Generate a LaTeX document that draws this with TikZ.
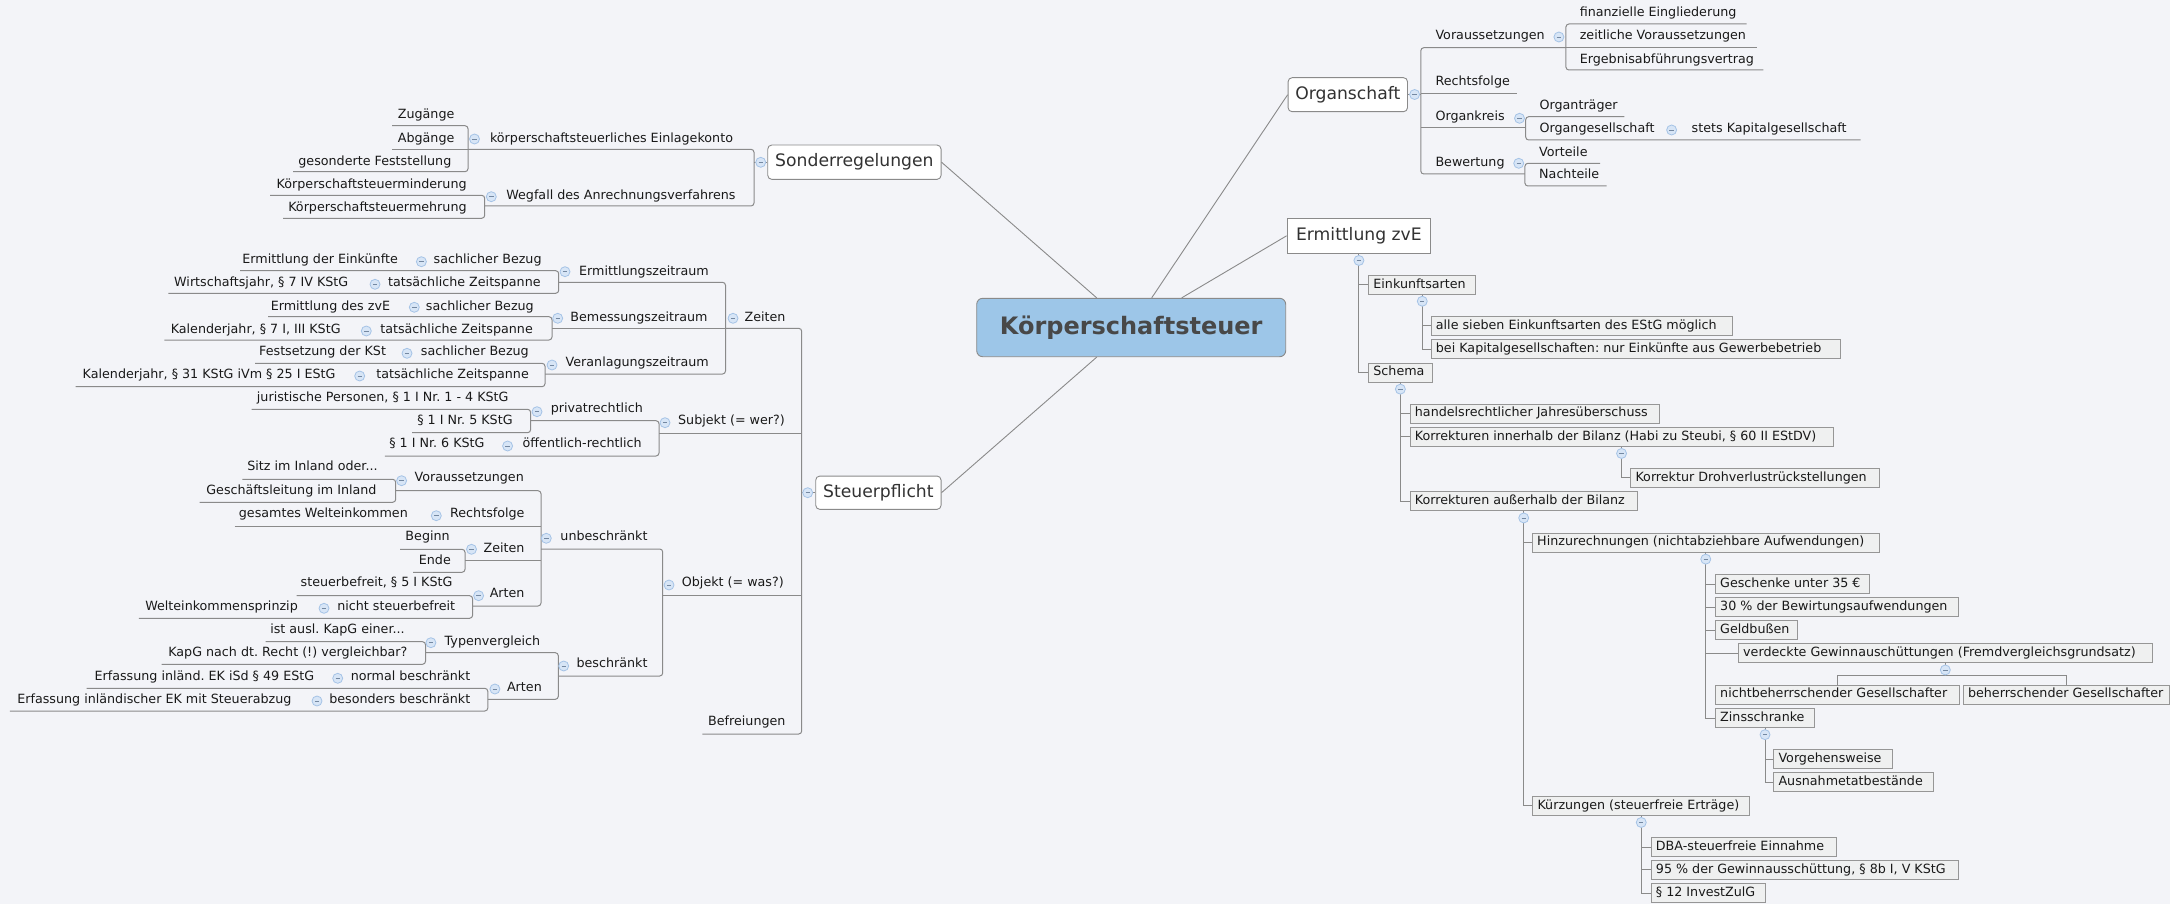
\documentclass[tikz,border=0pt]{standalone}
\usepackage{fontspec}
\setmainfont{DejaVu Sans}
\frenchspacing
\definecolor{bg}{RGB}{243,244,248}
\definecolor{ln}{RGB}{138,138,138}
\definecolor{tx}{RGB}{25,25,25}
\definecolor{mtx}{RGB}{50,50,50}
\definecolor{ctx}{RGB}{72,72,72}
\definecolor{cfill}{RGB}{157,198,232}
\definecolor{ccf}{RGB}{215,229,246}
\definecolor{ccd}{RGB}{165,195,230}
\definecolor{rbf}{RGB}{239,240,240}
\definecolor{rbd}{RGB}{150,150,150}
\newcommand{\fs}{\fontsize{12.7}{15}\selectfont\frenchspacing}
\newcommand{\tlnode}[4]{\node[lt,anchor=east] (#1) at (#2,#3) {#4};}
\newcommand{\trnode}[4]{\node[lt,anchor=west] (#1) at (#2,#3) {#4};}
\newcommand{\ccnode}[3]{\node[cc] (#1) at (#2,#3) {};}
\newcommand{\rbnode}[5]{\node[rbox,minimum width=#3pt,anchor=west] (#1) at (#2,#4) {};\node[lt,anchor=west] (#1-t) at ([xshift=5pt]#1.west) {#5};}
\begin{document}
\begin{tikzpicture}[x=1pt,y=-1pt,
 lt/.style={font=\fs,text=tx,inner sep=0pt,text height=9.6pt,text depth=2.8pt},
 ul/.style={draw=ln,line width=1pt},
 br/.style={draw=ln,line width=1pt,rounded corners=3pt},
 tcon/.style={draw=ln,line width=1pt},
 cc/.style={circle,minimum size=10pt,inner sep=0pt,fill=ccf,draw=ccd,line width=0.8pt,
   path picture={\draw[ccd!70!black,line width=0.8pt] ([xshift=-2.2pt]path picture bounding box.center) -- ([xshift=2.2pt]path picture bounding box.center);}},
 mln/.style={draw=ln,line width=0.9pt},
 mtop/.style={draw=ln,fill=white,rounded corners=4pt,line width=0.9pt,inner sep=0pt,font=\fontsize{17.2}{20}\selectfont,text=mtx},
 central/.style={draw=ln,fill=cfill,rounded corners=6pt,line width=0.9pt,inner sep=0pt,font=\bfseries\fontsize{24}{28}\selectfont,text=ctx},
 rbox/.style={draw=rbd,fill=rbf,line width=0.9pt,minimum height=19pt,inner sep=0pt}
]
\useasboundingbox (0,0) rectangle (2170,904);
\fill[bg] (0,0) rectangle (2170,904);

% ---------- main topics ----------
\node[central,minimum width=309pt,minimum height=58.4pt] (ks) at (1131.2,327.5) {Körperschaftsteuer};
\node[mtop,minimum width=173.3pt,minimum height=34.3pt] (sonder) at (854.4,162.2) {Sonderregelungen};
\node[mtop,minimum width=125.3pt,minimum height=33.3pt] (steuer) at (878.4,492.7) {Steuerpflicht};
\node[mtop,minimum width=119.4pt,minimum height=34pt] (organ) at (1347.8,94.7) {Organschaft};
\node[mtop,rounded corners=0pt,minimum width=143.7pt,minimum height=35pt] (zve) at (1358.9,235.8) {Ermittlung zvE};

\draw[mln] ([xshift=20.5pt]ks.north) -- (organ.west);
\draw[mln] ([xshift=50.5pt]ks.north) -- (zve.west);
\draw[mln] ([xshift=-34.5pt]ks.north) -- (sonder.east);
\draw[mln] ([xshift=-34.5pt]ks.south) -- (steuer.east);

% ---------- Sonderregelungen ----------
\draw[br] (468,149.3) -- (754,149.3) -- (754,206) -- (484.7,206);
\draw[ul] (754,162.2) -- (sonder.west);
\draw[br] (392,125.7) -- (468,125.7) -- (468,171.7) -- (293,171.7);
\draw[ul] (392,149.3) -- (468,149.3);
\draw[br] (270,195.3) -- (484.7,195.3) -- (484.7,218.3) -- (283,218.3);

\tlnode{keko}{733.2}{139}{körperschaftsteuerliches Einlagekonto}
\tlnode{zug}{454.6}{115}{Zugänge}
\tlnode{abg}{454.6}{139}{Abgänge}
\tlnode{gesf}{451.5}{161.7}{gesonderte Feststellung}
\tlnode{wegf}{735.7}{196}{Wegfall des Anrechnungsverfahrens}
\tlnode{kmind}{466.8}{185}{Körperschaftsteuerminderung}
\tlnode{kmehr}{466.8}{207.7}{Körperschaftsteuermehrung}
\ccnode{c-sonder}{760.7}{162.3}
\ccnode{c-keko}{474.5}{139}
\ccnode{c-wegf}{491.3}{196.7}

% ---------- Steuerpflicht ----------
\draw[br] (725.5,328.3) -- (801.7,328.3) -- (801.7,734) -- (702.3,734);
\draw[ul] (801.7,492.7) -- (steuer.west);
\draw[ul] (659,433.3) -- (801.7,433.3);
\draw[ul] (662.7,595.7) -- (801.7,595.7);
% Zeiten
\draw[br] (558.7,282.3) -- (725.5,282.3) -- (725.5,374) -- (545,374);
\draw[ul] (552,328.3) -- (725.5,328.3);
\draw[br] (240,270.7) -- (558.7,270.7) -- (558.7,293.3) -- (168.4,293.3);
\draw[br] (268,316.7) -- (552,316.7) -- (552,340) -- (164.3,340);
\draw[br] (255,363.3) -- (545,363.3) -- (545,386.7) -- (75.5,386.7);
% Subjekt
\draw[br] (530.6,420.7) -- (659,420.7) -- (659,456) -- (384.8,456);
\draw[br] (251.5,409.3) -- (530.6,409.3) -- (530.6,432.7) -- (412,432.7);
% Objekt
\draw[br] (541,549) -- (662.7,549) -- (662.7,676) -- (558.3,676);
\draw[br] (395.7,490.7) -- (541,490.7) -- (541,606) -- (472.6,606);
\draw[ul] (234.7,526) -- (541,526);
\draw[ul] (465,560) -- (541,560);
\draw[br] (242.3,479.3) -- (395.7,479.3) -- (395.7,502.3) -- (199.5,502.3);
\draw[br] (400,549.3) -- (465,549.3) -- (465,572.3) -- (413,572.3);
\draw[br] (296.5,595.7) -- (472.6,595.7) -- (472.6,618.3) -- (138.8,618.3);
\draw[br] (425.5,652.7) -- (558.3,652.7) -- (558.3,699.3) -- (487.8,699.3);
\draw[br] (265.6,641.7) -- (425.5,641.7) -- (425.5,664.3) -- (161.5,664.3);
\draw[br] (86.7,688.3) -- (487.8,688.3) -- (487.8,711) -- (9.8,711);

\tlnode{zeiten}{785.7}{318.3}{Zeiten}
\tlnode{ez}{709}{271.7}{Ermittlungszeitraum}
\tlnode{sb1}{541.8}{260}{sachlicher Bezug}
\tlnode{edE}{398}{260}{Ermittlung der Einkünfte}
\tlnode{tz1}{540.8}{283.3}{tatsächliche Zeitspanne}
\tlnode{wj}{348.5}{283.3}{Wirtschaftsjahr, § 7 IV KStG}
\tlnode{bz}{707.7}{318.3}{Bemessungszeitraum}
\tlnode{sb2}{534}{306.7}{sachlicher Bezug}
\tlnode{ezvE}{390.3}{306.7}{Ermittlung des zvE}
\tlnode{tz2}{533}{330}{tatsächliche Zeitspanne}
\tlnode{kj1}{340.8}{330}{Kalenderjahr, § 7 I, III KStG}
\tlnode{vz}{709}{362.7}{Veranlagungszeitraum}
\tlnode{sb3}{529}{351.7}{sachlicher Bezug}
\tlnode{fks}{386.2}{351.7}{Festsetzung der KSt}
\tlnode{tz3}{529}{375}{tatsächliche Zeitspanne}
\tlnode{kj2}{335.7}{375}{Kalenderjahr, § 31 KStG iVm § 25 I EStG}

\tlnode{subj}{785}{420.7}{Subjekt (= wer?)}
\tlnode{priv}{643}{409}{privatrechtlich}
\tlnode{jp}{508.7}{397.7}{juristische Personen, § 1 I Nr. 1 - 4 KStG}
\tlnode{nr5}{512.8}{421}{§ 1 I Nr. 5 KStG}
\tlnode{oeff}{641.8}{444.3}{öffentlich-rechtlich}
\tlnode{nr6}{484.7}{444.3}{§ 1 I Nr. 6 KStG}

\tlnode{obj}{784}{583.3}{Objekt (= was?)}
\tlnode{unb}{647.7}{536.7}{unbeschränkt}
\tlnode{vor}{524}{478.3}{Voraussetzungen}
\tlnode{sitz}{377.8}{467.3}{Sitz im Inland oder...}
\tlnode{gl}{376.7}{490.7}{Geschäftsleitung im Inland}
\tlnode{rf}{524.7}{514}{Rechtsfolge}
\tlnode{gwe}{408}{514}{gesamtes Welteinkommen}
\tlnode{zt}{524.7}{549}{Zeiten}
\tlnode{beg}{449.9}{536.7}{Beginn}
\tlnode{ende}{451}{560.7}{Ende}
\tlnode{art1}{524.7}{594.3}{Arten}
\tlnode{stb}{452.6}{583.3}{steuerbefreit, § 5 I KStG}
\tlnode{nstb}{455.3}{606.7}{nicht steuerbefreit}
\tlnode{wep}{298}{606.7}{Welteinkommensprinzip}
\tlnode{besch}{647.7}{664.3}{beschränkt}
\tlnode{typ}{540.4}{641.7}{Typenvergleich}
\tlnode{ausl}{404.9}{630}{ist ausl. KapG einer...}
\tlnode{kapg}{407.6}{653.3}{KapG nach dt. Recht (!) vergleichbar?}
\tlnode{art2}{542}{687.7}{Arten}
\tlnode{nb}{470.5}{676.7}{normal beschränkt}
\tlnode{e49}{314.4}{676.7}{Erfassung inländ. EK iSd § 49 EStG}
\tlnode{bb}{470.5}{700}{besonders beschränkt}
\tlnode{est}{291.6}{700}{Erfassung inländischer EK mit Steuerabzug}
\tlnode{bef}{785.7}{722.3}{Befreiungen}

\ccnode{c-steuer}{807.7}{492.7}
\ccnode{c-zeiten}{733}{318.3}
\ccnode{c-ez}{565}{271.7}
\ccnode{c-sb1}{421.4}{261.7}
\ccnode{c-tz1}{375}{284.3}
\ccnode{c-bz}{557.7}{318.3}
\ccnode{c-sb2}{414.3}{307.3}
\ccnode{c-tz2}{366.3}{331}
\ccnode{c-vz}{552}{365}
\ccnode{c-sb3}{407}{353.3}
\ccnode{c-tz3}{359.7}{376}
\ccnode{c-subj}{665}{422.7}
\ccnode{c-priv}{537}{411.7}
\ccnode{c-oeff}{507.6}{446}
\ccnode{c-obj}{669}{585}
\ccnode{c-unb}{546.3}{538.3}
\ccnode{c-vor}{401.6}{480.7}
\ccnode{c-rf}{436.3}{515.7}
\ccnode{c-zt}{471.5}{549.3}
\ccnode{c-art1}{478.6}{595.7}
\ccnode{c-nstb}{324}{608.3}
\ccnode{c-besch}{563.7}{666}
\ccnode{c-typ}{430.9}{642.7}
\ccnode{c-art2}{494.9}{689}
\ccnode{c-nb}{337.7}{678.3}
\ccnode{c-bb}{317}{701}

% ---------- Organschaft ----------
\draw[br] (1565.9,47.7) -- (1420.8,47.7) -- (1420.8,174) -- (1524.9,174);
\draw[ul] (organ.east) -- (1420.8,94.7);
\draw[ul] (1420.8,94) -- (1517.4,94);
\draw[ul] (1420.8,127.7) -- (1525.7,127.7);
\draw[br] (1746.7,24) -- (1565.9,24) -- (1565.9,70) -- (1763.3,70);
\draw[ul] (1565.9,47.7) -- (1756.6,47.7);
\draw[br] (1624.4,116.7) -- (1525.7,116.7) -- (1525.7,140) -- (1860.7,140);
\draw[br] (1600,163.3) -- (1524.9,163.3) -- (1524.9,186) -- (1606.6,186);

\trnode{vor2}{1435.3}{36}{Voraussetzungen}
\trnode{fe}{1579.6}{13.3}{finanzielle Eingliederung}
\trnode{zv}{1579.6}{36}{zeitliche Voraussetzungen}
\trnode{eav}{1579.6}{60}{Ergebnisabführungsvertrag}
\trnode{rf2}{1435.3}{82.3}{Rechtsfolge}
\trnode{ok}{1435.3}{117.3}{Organkreis}
\trnode{ot}{1539.4}{106}{Organträger}
\trnode{og}{1539.4}{129.3}{Organgesellschaft}
\trnode{skg}{1691.5}{129.3}{stets Kapitalgesellschaft}
\trnode{bw}{1435.3}{163.3}{Bewertung}
\trnode{vt}{1539}{152.7}{Vorteile}
\trnode{nt}{1539}{175}{Nachteile}
\ccnode{c-organ}{1414.6}{94.5}
\ccnode{c-vor2}{1558.9}{37}
\ccnode{c-ok}{1519.5}{118.3}
\ccnode{c-og}{1671.6}{130}
\ccnode{c-bw}{1518.7}{163.3}

% ---------- Ermittlung zvE ----------
\rbnode{einkunft}{1368.2}{107.2}{284.6}{Einkunftsarten}
\rbnode{alle}{1430.7}{301.3}{325.8}{alle sieben Einkunftsarten des EStG möglich}
\rbnode{bei}{1430.7}{409.3}{349.2}{bei Kapitalgesellschaften: nur Einkünfte aus Gewerbebetrieb}
\rbnode{schema}{1368.2}{63.4}{372.5}{Schema}
\rbnode{handels}{1409.7}{249.6}{413.5}{handelsrechtlicher Jahresüberschuss}
\rbnode{korrin}{1409.7}{422.8}{436.8}{Korrekturen innerhalb der Bilanz (Habi zu Steubi, § 60 II EStDV)}
\rbnode{drohv}{1630.3}{249.1}{477.8}{Korrektur Drohverlustrückstellungen}
\rbnode{korraus}{1409.7}{227.1}{501.3}{Korrekturen außerhalb der Bilanz}
\rbnode{hinzu}{1532}{346.6}{542.5}{Hinzurechnungen (nichtabziehbare Aufwendungen)}
\rbnode{gesch}{1715}{154.2}{584}{Geschenke unter 35 €}
\rbnode{bew}{1715}{243.1}{607.2}{30 \% der Bewirtungsaufwendungen}
\rbnode{geld}{1715}{81.6}{630.3}{Geldbußen}
\rbnode{vga}{1738}{413.7}{653.3}{verdeckte Gewinnauschüttungen (Fremdvergleichsgrundsatz)}
\rbnode{nichtb}{1715}{244}{694.5}{nichtbeherrschender Gesellschafter}
\rbnode{beh}{1962.8}{206.2}{694.5}{beherrschender Gesellschafter}
\rbnode{zins}{1715}{99.1}{718}{Zinsschranke}
\rbnode{vorg}{1773.3}{118.4}{759.2}{Vorgehensweise}
\rbnode{ausn}{1773.3}{159.4}{782}{Ausnahmetatbestände}
\rbnode{kuerz}{1532.3}{217}{805.8}{Kürzungen (steuerfreie Erträge)}
\rbnode{dba}{1650.7}{185.3}{847}{DBA-steuerfreie Einnahme}
\rbnode{g95}{1650.7}{307}{869.7}{95 \% der Gewinnausschüttung, § 8b I, V KStG}
\rbnode{invest}{1650.7}{114.3}{893}{§ 12 InvestZulG}

\draw[tcon] (zve.south) |- (einkunft.west);
\draw[tcon] (zve.south) |- (schema.west);
\draw[tcon] (einkunft.south) |- (alle.west);
\draw[tcon] (einkunft.south) |- (bei.west);
\draw[tcon] (schema.south) |- (handels.west);
\draw[tcon] (schema.south) |- (korrin.west);
\draw[tcon] (schema.south) |- (korraus.west);
\draw[tcon] (korrin.south) |- (drohv.west);
\draw[tcon] (korraus.south) |- (hinzu.west);
\draw[tcon] (korraus.south) |- (kuerz.west);
\draw[tcon] (hinzu.south) |- (gesch.west);
\draw[tcon] (hinzu.south) |- (bew.west);
\draw[tcon] (hinzu.south) |- (geld.west);
\draw[tcon] (hinzu.south) |- (vga.west);
\draw[tcon] (hinzu.south) |- (zins.west);
\coordinate (vgaj) at ([yshift=-12.7pt]vga.south);
\draw[tcon] (vga.south) -- (vgaj);
\draw[tcon] (nichtb.north) |- (vgaj) -| (beh.north);
\draw[tcon] (zins.south) |- (vorg.west);
\draw[tcon] (zins.south) |- (ausn.west);
\draw[tcon] (kuerz.south) |- (dba.west);
\draw[tcon] (kuerz.south) |- (g95.west);
\draw[tcon] (kuerz.south) |- (invest.west);

\foreach \n in {zve,einkunft,schema,korrin,korraus,hinzu,vga,zins,kuerz}
  {\node[cc] (c-\n) at ([yshift=-6.7pt]\n.south) {};}
\end{tikzpicture}
\end{document}
